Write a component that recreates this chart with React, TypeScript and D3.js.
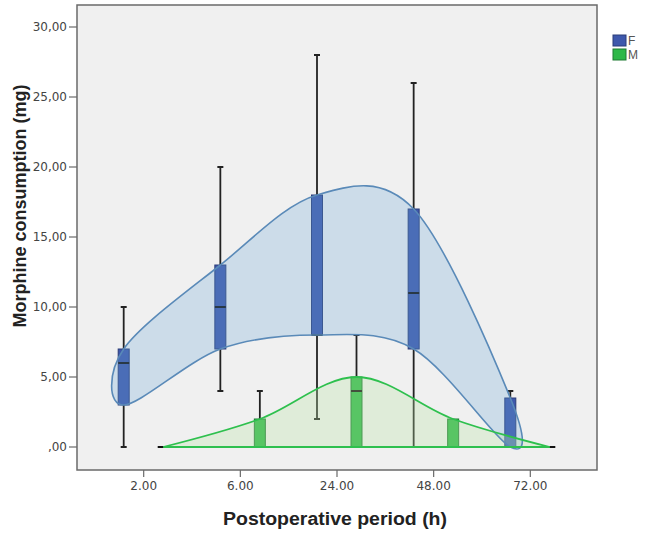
import React from "react";
import * as d3 from "d3";

const periods = ["2.00", "6.00", "24.00", "48.00", "72.00"];
const groups = ["F", "M"];

// Female box statistics
const fMin = [0, 4, 2, 0, 0];
const fQ1 = [3, 7, 8, 7, 0];
const fMed = [6, 10, 8, 11, 0];
const fQ3 = [7, 13, 18, 17, 3.5];
const fMax = [10, 20, 28, 26, 4];

// Male box statistics
const mMin = [0, 0, 0, 0, 0];
const mQ1 = [0, 0, 0, 0, 0];
const mMed = [0, 0, 4, 0, 0];
const mQ3 = [0, 2, 5, 2, 0];
const mMax = [0, 4, 8, 2, 0];

const yTicks = [0, 5, 10, 15, 20, 25, 30];
const yTickLabels = [",00", "5,00", "10,00", "15,00", "20,00", "25,00", "30,00"];

const W = 645;
const H = 535;
const plot = { left: 77, right: 597, top: 5, bottom: 470 };

const BLUE = "#3e58ac";
const BLUE_STROKE = "#2a3c78";
const GREEN = "#2eb848";
const GREEN_STROKE = "#1f7a33";

export default function App() {
  const x = d3.scalePoint<string>().domain(periods).range([plot.left, plot.right]).padding(0.69);
  const y = d3.scaleLinear().domain([0, 30]).range([447, 27]);
  const offF = -20;
  const offM = 19.5;
  const bw = 11;

  const fX = (p: string) => (x(p) as number) + offF;
  const mX = (p: string) => (x(p) as number) + offM;

  const fPts: [number, number][] = [
    ...periods.map((p, i) => [fX(p), y(fQ3[i])] as [number, number]),
    ...periods.map((p, i) => [fX(p), y(fQ1[i])] as [number, number]).reverse(),
  ];
  const fPath = d3.line().curve(d3.curveCardinalClosed.tension(0))(fPts) || "";

  const mTop: [number, number][] = periods.map((p, i) => [mX(p), y(mQ3[i])]);
  const mUpper = d3.line().curve(d3.curveCardinal.tension(0))(mTop) || "";
  const mPath = mUpper + `L${mX(periods[0])},${y(0)}Z`;

  const boxes = (
    cx: (p: string) => number,
    mn: number[], q1: number[], md: number[], q3: number[], mx: number[],
    fill: string, stroke: string, key: string
  ) =>
    periods.map((p, i) => {
      const c = cx(p);
      return (
        <g key={key + i}>
          {mx[i] > q3[i] && (
            <g>
              <line x1={c} x2={c} y1={y(q3[i])} y2={y(mx[i])} stroke="#222" strokeWidth={1.8} />
              <line x1={c - 3} x2={c + 3} y1={y(mx[i])} y2={y(mx[i])} stroke="#222" strokeWidth={2} />
            </g>
          )}
          {mn[i] < q1[i] && (
            <g>
              <line x1={c} x2={c} y1={y(q1[i])} y2={y(mn[i])} stroke="#222" strokeWidth={1.8} />
              <line x1={c - 3} x2={c + 3} y1={y(mn[i])} y2={y(mn[i])} stroke="#222" strokeWidth={2} />
            </g>
          )}
          {q3[i] > q1[i] && (
            <rect x={c - bw / 2} y={y(q3[i])} width={bw} height={y(q1[i]) - y(q3[i])}
              fill={fill} stroke={stroke} strokeWidth={1} />
          )}
          <line x1={c - bw / 2} x2={c + bw / 2} y1={y(md[i])} y2={y(md[i])} stroke="#111" strokeWidth={2} />
        </g>
      );
    });

  return (
    <svg width={W} height={H} style={{ position: "absolute", left: 0, top: 0, display: "block", background: "#fff" }}
      fontFamily="'Liberation Sans', Arial, sans-serif">
      <rect x={plot.left} y={plot.top} width={plot.right - plot.left} height={plot.bottom - plot.top}
        fill="#f0f0f0" />

      {boxes(fX, fMin, fQ1, fMed, fQ3, fMax, BLUE, BLUE_STROKE, "f")}
      {boxes(mX, mMin, mQ1, mMed, mQ3, mMax, GREEN, GREEN_STROKE, "m")}

      <path d={fPath} fill="rgb(109,167,216)" fillOpacity={0.27} stroke="none" />
      <path d={mPath} fill="rgb(184,228,164)" fillOpacity={0.3} stroke="none" />
      <path d={fPath} fill="none" stroke="#5a8ab8" strokeWidth={1.6} />
      <path d={mPath} fill="none" stroke="#2ec04e" strokeWidth={1.8} />

      <rect x={plot.left} y={plot.top} width={plot.right - plot.left} height={plot.bottom - plot.top}
        fill="none" stroke="#6a6a6a" strokeWidth={1.5} />

      {yTicks.map((t, i) => (
        <g key={"yt" + i}>
          <line x1={plot.left - 8} x2={plot.left} y1={y(t)} y2={y(t)} stroke="#6a6a6a" strokeWidth={1.2} />
          <text x={plot.left - 10} y={y(t) + 4} textAnchor="end" fontSize={12}
            fontFamily="'DejaVu Sans', sans-serif" fill="#444">{yTickLabels[i]}</text>
        </g>
      ))}

      {periods.map((p) => (
        <g key={"xt" + p}>
          <line x1={x(p)} x2={x(p)} y1={plot.bottom} y2={plot.bottom + 7} stroke="#6a6a6a" strokeWidth={1.2} />
          <text x={x(p)} y={490} textAnchor="middle" fontSize={12}
            fontFamily="'DejaVu Sans', sans-serif" fill="#444">{p}</text>
        </g>
      ))}

      <text x={335} y={525} textAnchor="middle" fontSize={18} fontWeight="bold" fill="#222"
        textLength={224} lengthAdjust="spacingAndGlyphs">Postoperative period (h)</text>
      <text transform="translate(26,206) rotate(-90)" textAnchor="middle" fontSize={18} fontWeight="bold"
        fill="#222">Morphine consumption (mg)</text>

      {groups.map((g, i) => (
        <g key={"lg" + g}>
          <rect x={613} y={35 + i * 14} width={13} height={11} fill={i === 0 ? BLUE : GREEN}
            stroke={i === 0 ? BLUE_STROKE : GREEN_STROKE} strokeWidth={1} />
          <text x={628} y={45 + i * 14} fontSize={12} fill="#555">{g}</text>
        </g>
      ))}
    </svg>
  );
}
